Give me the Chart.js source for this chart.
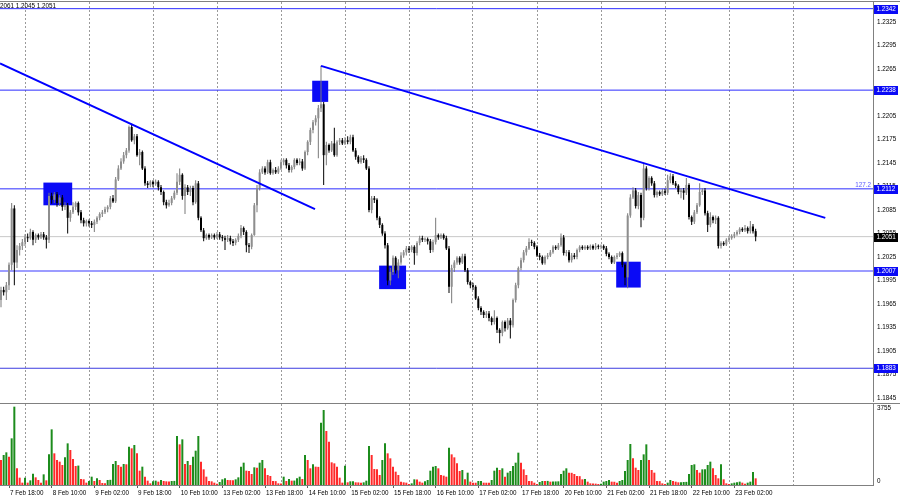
<!DOCTYPE html>
<html>
<head>
<meta charset="utf-8">
<script src="https://cdn.jsdelivr.net/npm/chart.js@4.4.0/dist/chart.umd.min.js"></script>
<style>
body { margin: 0; background: #fff; }
#wrap { position: relative; width: 900px; height: 500px; overflow: hidden; background: #fff; }
#price { position: absolute; left: 0; top: 0; }
#volume { position: absolute; left: 0; top: 402px; }
</style>
</head>
<body>
<div id="wrap">
<canvas id="price" width="900" height="402"></canvas>
<canvas id="volume" width="900" height="98"></canvas>
</div>
<script>
// H1 bars, 7 Feb 15:00 .. 23 Feb 10:00
const opens = [
 1.1970,1.1983,1.1980,1.1989,1.2015,1.2087,1.2018,1.2034,1.2039,1.2044,
 1.2050,1.2049,1.2057,1.2047,1.2053,1.2050,1.2054,1.2050,1.2047,1.2103,
 1.2098,1.2105,1.2094,1.2101,1.2089,1.2091,1.2075,1.2082,1.2089,1.2094,
 1.2082,1.2072,1.2068,1.2071,1.2068,1.2066,1.2070,1.2075,1.2080,1.2082,
 1.2086,1.2089,1.2100,1.2096,1.2124,1.2138,1.2147,1.2155,1.2161,1.2191,
 1.2174,1.2179,1.2155,1.2159,1.2138,1.2119,1.2117,1.2121,1.2118,1.2121,
 1.2114,1.2108,1.2095,1.2091,1.2094,1.2100,1.2107,1.2121,1.2130,1.2103,
 1.2114,1.2108,1.2113,1.2095,1.2119,1.2075,1.2059,1.2049,1.2053,1.2050,
 1.2053,1.2050,1.2054,1.2050,1.2049,1.2047,1.2049,1.2045,1.2043,1.2047,
 1.2052,1.2062,1.2057,1.2040,1.2038,1.2053,1.2091,1.2113,1.2133,1.2138,
 1.2133,1.2146,1.2132,1.2136,1.2133,1.2138,1.2146,1.2149,1.2142,1.2136,
 1.2140,1.2149,1.2145,1.2147,1.2138,1.2159,1.2172,1.2187,1.2197,1.2202,
 1.2215,1.2220,1.2155,1.2168,1.2161,1.2170,1.2155,1.2172,1.2174,1.2170,
 1.2174,1.2172,1.2178,1.2161,1.2153,1.2146,1.2151,1.2149,1.2138,1.2085,
 1.2100,1.2098,1.2075,1.2066,1.2055,1.2040,1.1995,1.2006,1.2024,1.2008,
 1.2018,1.2027,1.2031,1.2036,1.2034,1.2038,1.2030,1.2043,1.2049,1.2047,
 1.2048,1.2045,1.2034,1.2044,1.2053,1.2050,1.2053,1.2049,1.2036,1.1987,
 1.2011,1.2018,1.2024,1.2018,1.2026,1.2008,1.1993,1.1989,1.1987,1.1972,
 1.1960,1.1955,1.1951,1.1953,1.1947,1.1942,1.1947,1.1932,1.1928,1.1942,
 1.1934,1.1944,1.1938,1.1970,1.1989,1.2011,1.2021,1.2031,1.2036,1.2044,
 1.2043,1.2038,1.2027,1.2025,1.2017,1.2025,1.2027,1.2031,1.2038,1.2036,
 1.2040,1.2050,1.2030,1.2031,1.2021,1.2027,1.2025,1.2034,1.2038,1.2036,
 1.2038,1.2036,1.2039,1.2036,1.2039,1.2038,1.2039,1.2036,1.2029,1.2025,
 1.2018,1.2025,1.2027,1.2030,1.2015,1.1999,1.2078,1.2101,1.2110,1.2090,
 1.2104,1.2075,1.2138,1.2113,1.2126,1.2119,1.2104,1.2108,1.2105,1.2109,
 1.2107,1.2123,1.2128,1.2119,1.2116,1.2108,1.2110,1.2107,1.2117,1.2076,
 1.2070,1.2082,1.2091,1.2108,1.2110,1.2081,1.2066,1.2076,1.2072,1.2075,
 1.2039,1.2043,1.2041,1.2047,1.2049,1.2052,1.2054,1.2057,1.2061,1.2059,
 1.2062,1.2058,1.2064,1.2058
];
const highs = [
 1.1987,1.1987,1.1993,1.2018,1.2094,1.2091,1.2040,1.2043,1.2048,1.2054,
 1.2055,1.2061,1.2059,1.2055,1.2055,1.2057,1.2057,1.2053,1.2107,1.2107,
 1.2108,1.2108,1.2104,1.2104,1.2095,1.2094,1.2085,1.2095,1.2096,1.2096,
 1.2085,1.2075,1.2073,1.2073,1.2071,1.2073,1.2077,1.2082,1.2085,1.2089,
 1.2091,1.2103,1.2104,1.2127,1.2142,1.2151,1.2159,1.2164,1.2193,1.2195,
 1.2182,1.2182,1.2163,1.2161,1.2141,1.2122,1.2123,1.2123,1.2124,1.2123,
 1.2117,1.2110,1.2098,1.2098,1.2103,1.2110,1.2132,1.2138,1.2132,1.2118,
 1.2117,1.2116,1.2116,1.2123,1.2122,1.2077,1.2062,1.2055,1.2055,1.2055,
 1.2055,1.2057,1.2057,1.2053,1.2052,1.2053,1.2052,1.2048,1.2049,1.2055,
 1.2066,1.2064,1.2059,1.2043,1.2055,1.2094,1.2117,1.2137,1.2141,1.2141,
 1.2149,1.2149,1.2138,1.2140,1.2141,1.2149,1.2151,1.2151,1.2145,1.2142,
 1.2151,1.2151,1.2151,1.2150,1.2161,1.2174,1.2190,1.2200,1.2206,1.2219,
 1.2269,1.2223,1.2172,1.2170,1.2173,1.2190,1.2174,1.2177,1.2177,1.2178,
 1.2179,1.2181,1.2181,1.2164,1.2155,1.2154,1.2155,1.2151,1.2141,1.2103,
 1.2103,1.2100,1.2077,1.2068,1.2058,1.2043,1.2011,1.2027,1.2026,1.2022,
 1.2031,1.2034,1.2039,1.2039,1.2040,1.2040,1.2045,1.2052,1.2052,1.2050,
 1.2050,1.2048,1.2047,1.2075,1.2055,1.2055,1.2055,1.2052,1.2039,1.2015,
 1.2021,1.2026,1.2026,1.2029,1.2029,1.2011,1.1995,1.1992,1.1989,1.1975,
 1.1962,1.1957,1.1956,1.1956,1.1949,1.1957,1.1949,1.1934,1.1944,1.1944,
 1.1947,1.1947,1.1972,1.1992,1.2013,1.2024,1.2034,1.2039,1.2049,1.2047,
 1.2045,1.2040,1.2030,1.2027,1.2027,1.2030,1.2034,1.2040,1.2040,1.2043,
 1.2055,1.2053,1.2034,1.2034,1.2030,1.2030,1.2036,1.2040,1.2040,1.2040,
 1.2040,1.2041,1.2041,1.2043,1.2041,1.2041,1.2041,1.2039,1.2031,1.2027,
 1.2027,1.2030,1.2032,1.2032,1.2017,1.2081,1.2105,1.2114,1.2113,1.2108,
 1.2107,1.2145,1.2141,1.2128,1.2128,1.2122,1.2110,1.2110,1.2112,1.2112,
 1.2130,1.2132,1.2131,1.2122,1.2118,1.2113,1.2113,1.2126,1.2119,1.2078,
 1.2085,1.2094,1.2119,1.2113,1.2113,1.2084,1.2082,1.2078,1.2078,1.2077,
 1.2045,1.2045,1.2049,1.2052,1.2054,1.2057,1.2059,1.2063,1.2063,1.2066,
 1.2064,1.2071,1.2067,1.2061
];
const lows = [
 1.1961,1.1976,1.1970,1.1983,1.2008,1.1989,1.2011,1.2027,1.2034,1.2039,
 1.2044,1.2047,1.2040,1.2043,1.2047,1.2048,1.2047,1.2036,1.2043,1.2093,
 1.2094,1.2089,1.2090,1.2084,1.2085,1.2055,1.2070,1.2080,1.2085,1.2078,
 1.2068,1.2064,1.2064,1.2064,1.2062,1.2057,1.2067,1.2072,1.2076,1.2080,
 1.2082,1.2086,1.2094,1.2094,1.2122,1.2136,1.2144,1.2151,1.2158,1.2172,
 1.2169,1.2153,1.2142,1.2136,1.2116,1.2113,1.2114,1.2114,1.2116,1.2110,
 1.2104,1.2091,1.2087,1.2089,1.2091,1.2098,1.2104,1.2117,1.2098,1.2080,
 1.2104,1.2103,1.2091,1.2093,1.2072,1.2057,1.2045,1.2047,1.2047,1.2048,
 1.2047,1.2048,1.2047,1.2045,1.2034,1.2044,1.2041,1.2039,1.2040,1.2044,
 1.2049,1.2053,1.2031,1.2030,1.2035,1.2052,1.2082,1.2110,1.2131,1.2130,
 1.2131,1.2130,1.2130,1.2131,1.2131,1.2136,1.2142,1.2138,1.2133,1.2133,
 1.2137,1.2142,1.2142,1.2135,1.2136,1.2155,1.2168,1.2183,1.2193,1.2151,
 1.2210,1.2117,1.2142,1.2158,1.2159,1.2153,1.2153,1.2168,1.2168,1.2168,
 1.2169,1.2169,1.2159,1.2149,1.2144,1.2144,1.2145,1.2136,1.2082,1.2081,
 1.2094,1.2072,1.2062,1.2052,1.2036,1.1989,1.1989,1.2002,1.2004,1.1998,
 1.2015,1.2024,1.2027,1.2030,1.2031,1.2015,1.2027,1.2040,1.2044,1.2044,
 1.2041,1.2030,1.2031,1.2041,1.2047,1.2048,1.2047,1.2034,1.1979,1.1966,
 1.2006,1.2015,1.2015,1.2016,1.2006,1.1990,1.1985,1.1983,1.1970,1.1957,
 1.1951,1.1947,1.1947,1.1943,1.1938,1.1939,1.1928,1.1915,1.1924,1.1930,
 1.1932,1.1921,1.1935,1.1967,1.1985,1.2008,1.2018,1.2027,1.2034,1.2039,
 1.2035,1.2025,1.2021,1.2015,1.2015,1.2022,1.2025,1.2029,1.2034,1.2034,
 1.2038,1.2027,1.2026,1.2018,1.2018,1.2022,1.2022,1.2031,1.2034,1.2034,
 1.2034,1.2034,1.2034,1.2034,1.2035,1.2035,1.2034,1.2026,1.2022,1.2016,
 1.2016,1.2022,1.2025,1.2012,1.1989,1.1985,1.2075,1.2099,1.2087,1.2086,
 1.2063,1.2072,1.2110,1.2110,1.2116,1.2101,1.2101,1.2103,1.2103,1.2104,
 1.2104,1.2119,1.2117,1.2113,1.2105,1.2100,1.2098,1.2104,1.2073,1.2066,
 1.2067,1.2080,1.2089,1.2104,1.2078,1.2057,1.2063,1.2068,1.2067,1.2036,
 1.2036,1.2039,1.2039,1.2044,1.2047,1.2049,1.2052,1.2054,1.2057,1.2057,
 1.2055,1.2055,1.2055,1.2045
];
const closes = [
 1.1983,1.1980,1.1989,1.2015,1.2087,1.2018,1.2034,1.2039,1.2044,1.2050,
 1.2049,1.2057,1.2047,1.2053,1.2050,1.2054,1.2050,1.2047,1.2103,1.2098,
 1.2105,1.2094,1.2101,1.2089,1.2091,1.2075,1.2082,1.2089,1.2094,1.2082,
 1.2072,1.2068,1.2071,1.2068,1.2066,1.2070,1.2075,1.2080,1.2082,1.2086,
 1.2089,1.2100,1.2096,1.2124,1.2138,1.2147,1.2155,1.2161,1.2191,1.2174,
 1.2179,1.2155,1.2159,1.2138,1.2119,1.2117,1.2121,1.2118,1.2121,1.2114,
 1.2108,1.2095,1.2091,1.2094,1.2100,1.2107,1.2121,1.2130,1.2103,1.2114,
 1.2108,1.2113,1.2095,1.2119,1.2075,1.2059,1.2049,1.2053,1.2050,1.2053,
 1.2050,1.2054,1.2050,1.2049,1.2047,1.2049,1.2045,1.2043,1.2047,1.2052,
 1.2062,1.2057,1.2040,1.2038,1.2053,1.2091,1.2113,1.2133,1.2138,1.2133,
 1.2146,1.2132,1.2136,1.2133,1.2138,1.2146,1.2149,1.2142,1.2136,1.2140,
 1.2149,1.2145,1.2147,1.2138,1.2159,1.2172,1.2187,1.2197,1.2202,1.2215,
 1.2220,1.2155,1.2168,1.2161,1.2170,1.2155,1.2172,1.2174,1.2170,1.2174,
 1.2172,1.2178,1.2161,1.2153,1.2146,1.2151,1.2149,1.2138,1.2085,1.2100,
 1.2098,1.2075,1.2066,1.2055,1.2040,1.1995,1.2006,1.2024,1.2008,1.2018,
 1.2027,1.2031,1.2036,1.2034,1.2038,1.2030,1.2043,1.2049,1.2047,1.2048,
 1.2045,1.2034,1.2044,1.2053,1.2050,1.2053,1.2049,1.2036,1.1987,1.2011,
 1.2018,1.2024,1.2018,1.2026,1.2008,1.1993,1.1989,1.1987,1.1972,1.1960,
 1.1955,1.1951,1.1953,1.1947,1.1942,1.1947,1.1932,1.1928,1.1942,1.1934,
 1.1944,1.1938,1.1970,1.1989,1.2011,1.2021,1.2031,1.2036,1.2044,1.2043,
 1.2038,1.2027,1.2025,1.2017,1.2025,1.2027,1.2031,1.2038,1.2036,1.2040,
 1.2050,1.2030,1.2031,1.2021,1.2027,1.2025,1.2034,1.2038,1.2036,1.2038,
 1.2036,1.2039,1.2036,1.2039,1.2038,1.2039,1.2036,1.2029,1.2025,1.2018,
 1.2025,1.2027,1.2030,1.2015,1.1999,1.2078,1.2101,1.2110,1.2090,1.2104,
 1.2075,1.2138,1.2113,1.2126,1.2119,1.2104,1.2108,1.2105,1.2109,1.2107,
 1.2123,1.2128,1.2119,1.2116,1.2108,1.2110,1.2107,1.2117,1.2076,1.2070,
 1.2082,1.2091,1.2108,1.2110,1.2081,1.2066,1.2076,1.2072,1.2075,1.2039,
 1.2043,1.2041,1.2047,1.2049,1.2052,1.2054,1.2057,1.2061,1.2059,1.2062,
 1.2058,1.2064,1.2058,1.2051
];
const volumes = [
 1159,1391,1514,1313,2163,3631,773,340,108,340,
 108,216,525,355,232,108,494,216,1421,2580,
 1468,1159,1082,927,1282,1931,1622,1205,881,900,
 278,263,108,185,386,185,309,232,93,77,
 232,240,973,1112,927,850,973,960,1777,1700,
 1854,1468,664,850,386,201,77,170,201,155,
 232,185,170,165,185,190,2271,1885,2117,973,
 1112,927,1313,1591,2271,1082,726,386,185,170,
 108,62,139,263,309,232,225,220,263,355,
 850,1035,664,649,510,819,803,1035,1159,773,
 464,417,185,180,77,75,386,185,278,201,
 205,309,386,278,1391,1159,773,958,850,840,
 2889,3476,2503,2009,1051,1004,850,340,108,896,
 124,170,175,124,120,108,124,201,1808,1391,
 742,735,464,1159,1931,1468,1236,850,618,464,
 155,124,108,46,77,263,255,155,108,170,
 232,664,850,881,773,464,433,386,1730,1421,
 1282,1004,649,695,263,572,155,108,105,185,
 190,108,105,100,232,664,803,695,773,386,
 572,649,881,1035,1499,1035,726,464,185,180,
 108,46,139,185,180,190,155,160,165,170,
 510,664,773,572,565,510,417,410,263,278,
 155,77,75,62,46,62,155,185,232,155,
 150,108,185,232,649,1159,1900,1236,803,695,
 1159,1421,1885,1159,695,572,185,180,77,46,
 108,232,185,155,124,130,139,145,510,927,
 958,695,572,726,735,927,1082,773,464,309,
 958,263,77,46,77,108,124,155,108,62,
 108,155,603,309
];
const timeLabels = ['7 Feb 18:00', '8 Feb 10:00', '9 Feb 02:00', '9 Feb 18:00', '10 Feb 10:00',
  '13 Feb 02:00', '13 Feb 18:00', '14 Feb 10:00', '15 Feb 02:00', '15 Feb 18:00', '16 Feb 10:00',
  '17 Feb 02:00', '17 Feb 18:00', '20 Feb 10:00', '21 Feb 02:00', '21 Feb 18:00', '22 Feb 10:00', '23 Feb 02:00'];
const priceTicks = [1.1845, 1.1875, 1.1905, 1.1935, 1.1965, 1.1995, 1.2025, 1.2055, 1.2085,
  1.2115, 1.2145, 1.2175, 1.2205, 1.2235, 1.2265, 1.2295, 1.2325];
const levels = [1.2342, 1.2238, 1.2112, 1.2007, 1.1883];
const lastPrice = 1.2051;
const volumeMax = 3755;
const fiboText = '127.2';
const headerText = '2061 1.2045 1.2051';
// trend lines: [bar, price] pairs
const trendA = [[-0.375, 1.2272], [117.75, 1.2086]];
const trendB = [[120, 1.2269], [309.1, 1.2075]];
// marked zones: bar from, bar to, price top, price bottom
const zones = [
  [15.9, 26.7, 1.2120, 1.2091],
  [116.7, 122.7, 1.2250, 1.2223],
  [141.8, 151.9, 1.2014, 1.1984],
  [230.7, 239.9, 1.2019, 1.1986]
];

var X_MIN = -0.375, X_MAX = 327.0;
var FONT = '"Liberation Sans", sans-serif';
var FONT_SIZE = 6.3;
var CSS_FONT = FONT_SIZE + 'px ' + FONT;
var levelColors = ['#2c2cff', '#2c2cff', '#2c2cff', '#9c9cff', '#3c3ce0'];
var levelWidths = [1, 1, 1, 2, 1];
var gridBars = [];
for (var g = 9; g <= 300; g += 24) gridBars.push(g);
var labelBars = timeLabels.map(function (t, k) { return 3 + 16 * k; });

Chart.defaults.font.family = FONT;

var bars = opens.map(function (o, i) { return i; });
function isUp(i) { return closes[i] >= opens[i]; }
function flat(v) { return [{ x: X_MIN, y: v }, { x: X_MAX, y: v }]; }
function seg(p) { return p.map(function (q) { return { x: q[0], y: q[1] }; }); }

var datasets = [];
datasets.push({
    type: 'line', data: seg(trendA), borderColor: '#0000ff', borderWidth: 2,
    pointRadius: 0, order: 1
});
datasets.push({
    type: 'line', data: seg(trendB), borderColor: '#0000ff', borderWidth: 2,
    pointRadius: 0, order: 1
});
datasets.push({
    type: 'bar', grouped: false, barThickness: 2, minBarLength: 1, inflateAmount: 0,
    data: bars.map(function (i) { return { x: i, y: [opens[i], closes[i]] }; }),
    backgroundColor: function (c) { return isUp(c.dataIndex) ? '#8e8e8e' : '#000000'; },
    order: 2
});
var WICK_INDEX = datasets.length;
datasets.push({
    type: 'bar', grouped: false, barThickness: 1, inflateAmount: 0,
    data: bars.map(function (i) { return { x: i, y: [lows[i], highs[i]] }; }),
    backgroundColor: function (c) { return isUp(c.dataIndex) ? '#7a7a7a' : '#000000'; },
    order: 3
});
levels.forEach(function (v, k) {
    datasets.push({
        type: 'line', data: flat(v), borderColor: levelColors[k], borderWidth: levelWidths[k],
        pointRadius: 0, order: 5
    });
});
datasets.push({
    type: 'line', data: flat(lastPrice), borderColor: '#c8c8c8', borderWidth: 1,
    pointRadius: 0, order: 6
});

var priceDecor = {
    id: 'priceDecor',
    beforeDatasetDraw: function (chart, args) {
        if (args.index !== WICK_INDEX) return;
        var ctx = chart.ctx, x = chart.scales.x, y = chart.scales.y;
        ctx.save();
        ctx.fillStyle = '#0a0af6';
        zones.forEach(function (z) {
            var x0 = x.getPixelForValue(z[0]), x1 = x.getPixelForValue(z[1]);
            var y0 = y.getPixelForValue(z[2]), y1 = y.getPixelForValue(z[3]);
            ctx.fillRect(x0, y0, x1 - x0, y1 - y0);
        });
        ctx.restore();
    },
    afterDraw: function (chart) {
        var ctx = chart.ctx, y = chart.scales.y, area = chart.chartArea;
        ctx.save();
        ctx.fillStyle = '#808080';
        ctx.fillRect(0, 1, 900, 1);
        ctx.font = CSS_FONT;
        ctx.textBaseline = 'middle';
        ctx.fillStyle = '#000';
        ctx.textAlign = 'left';
        ctx.fillText(headerText, 0, 6);

        ctx.textAlign = 'right';
        ctx.fillStyle = '#5a5aff';
        ctx.fillText(fiboText, area.right - 2, y.getPixelForValue(levels[2]) - 4);

        ctx.textAlign = 'left';
        function tag(v, bg) {
            var py = Math.round(y.getPixelForValue(v));
            ctx.fillStyle = bg;
            ctx.fillRect(area.right + 1, py - 4, 24, 9);
            ctx.fillStyle = '#fff';
            ctx.fillText(v.toFixed(4), area.right + 3.5, py + 0.5);
        }
        levels.forEach(function (v) { tag(v, '#0a0af6'); });
        tag(lastPrice, '#000');
        ctx.restore();
    }
};

new Chart(document.getElementById('price'), {
    type: 'bar',
    data: { datasets: datasets },
    options: {
        responsive: false, animation: false, devicePixelRatio: 1, events: [],
        layout: { padding: { top: 2, bottom: 1, left: 0, right: 0 } },
        plugins: { legend: { display: false }, tooltip: { enabled: false } },
        scales: {
            x: {
                type: 'linear', min: X_MIN, max: X_MAX, offset: false,
                grid: { offset: false, color: '#9a9a9a', lineWidth: 1, drawTicks: false },
                border: { display: false, dash: [2, 2] },
                ticks: { display: false },
                afterBuildTicks: function (s) { s.ticks = gridBars.map(function (v) { return { value: v }; }); },
                afterFit: function (s) { s.height = 0; s.paddingLeft = 0; s.paddingRight = 0; }
            },
            y: {
                type: 'linear', position: 'right', min: 1.18412, max: 1.23505,
                grid: { drawOnChartArea: false, drawTicks: false },
                border: { display: true, color: '#808080' },
                ticks: {
                    padding: 4, color: '#000', font: { family: FONT, size: FONT_SIZE },
                    callback: function (v) { return Number(v).toFixed(4); }
                },
                afterBuildTicks: function (s) { s.ticks = priceTicks.map(function (v) { return { value: v }; }); },
                afterFit: function (s) { s.width = 27; s.paddingTop = 0; s.paddingBottom = 0; }
            }
        }
    },
    plugins: [priceDecor]
});

var volumeDecor = {
    id: 'volumeDecor',
    afterDraw: function (chart) {
        var ctx = chart.ctx, area = chart.chartArea;
        ctx.save();
        ctx.fillStyle = '#808080';
        ctx.fillRect(0, 1, 900, 1);
        ctx.fillStyle = '#000';
        ctx.font = CSS_FONT;
        ctx.textBaseline = 'middle';
        ctx.textAlign = 'left';
        ctx.fillText(String(volumeMax), area.right + 4, area.top + 4);
        ctx.fillText('0', area.right + 4, area.bottom - 4);
        ctx.restore();
    }
};

new Chart(document.getElementById('volume'), {
    type: 'bar',
    data: {
        datasets: [{
            grouped: false, barThickness: 2, inflateAmount: 0,
            data: bars.map(function (i) { return { x: i, y: volumes[i] }; }),
            backgroundColor: function (c) {
                var i = c.dataIndex;
                return i > 0 && volumes[i] > volumes[i - 1] ? '#1c8c1c' : '#ff2a2a';
            }
        }]
    },
    options: {
        responsive: false, animation: false, devicePixelRatio: 1, events: [],
        layout: { padding: { top: 2, bottom: 0, left: 0, right: 0 } },
        plugins: { legend: { display: false }, tooltip: { enabled: false } },
        scales: {
            x: {
                type: 'linear', min: X_MIN, max: X_MAX, offset: false,
                grid: { offset: false, drawOnChartArea: false, drawTicks: true, tickLength: 3, color: '#606060' },
                border: { display: true, color: '#808080' },
                ticks: {
                    autoSkip: false, maxRotation: 0, align: 'start', labelOffset: 1, padding: 1,
                    color: '#000', font: { family: FONT, size: FONT_SIZE },
                    callback: function (v, i) { return timeLabels[i]; }
                },
                afterBuildTicks: function (s) { s.ticks = labelBars.map(function (v) { return { value: v }; }); },
                afterFit: function (s) { s.height = 15; s.paddingLeft = 0; s.paddingRight = 0; }
            },
            xg: {
                type: 'linear', axis: 'x', position: 'bottom', min: X_MIN, max: X_MAX, offset: false,
                grid: { offset: false, color: '#9a9a9a', lineWidth: 1, drawTicks: false },
                border: { display: false, dash: [2, 2] },
                ticks: { display: false },
                afterBuildTicks: function (s) { s.ticks = gridBars.map(function (v) { return { value: v }; }); },
                afterFit: function (s) { s.height = 0; s.paddingLeft = 0; s.paddingRight = 0; }
            },
            y: {
                type: 'linear', position: 'right', min: 0, max: volumeMax,
                grid: { display: false },
                border: { display: true, color: '#808080' },
                ticks: { display: false },
                afterFit: function (s) { s.width = 27; s.paddingTop = 0; s.paddingBottom = 0; }
            }
        }
    },
    plugins: [volumeDecor]
});
</script>
</body>
</html>
